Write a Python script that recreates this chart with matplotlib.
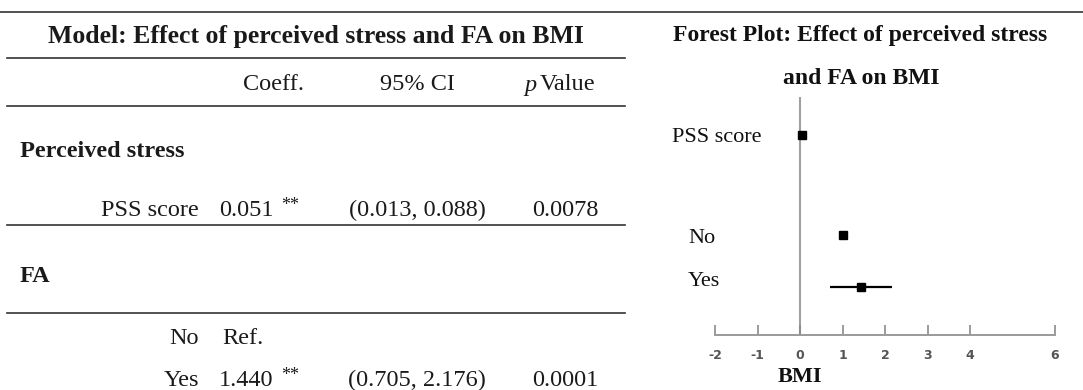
import numpy as np
import matplotlib
matplotlib.use("Agg")
import matplotlib.pyplot as plt
from matplotlib.lines import Line2D

# regression results: perceived stress and FA on BMI
terms = ["PSS score", "No", "Yes"]
coef = [0.051, 1.0, 1.440]
coef_marks = ["**", "", "**"]
ci_low = [0.013, np.nan, 0.705]
ci_high = [0.088, np.nan, 2.176]
p_values = [0.0078, np.nan, 0.0001]
is_reference = [False, True, False]

groups = ["Perceived stress", "FA"]
x_ticks = [-2, -1, 0, 1, 2, 3, 4, 6]

W, H = 1083, 390
SERIF = ["Liberation Serif", "DejaVu Serif"]


def px(x, y):
    """pixel position (from top-left) -> figure fraction"""
    return x / W, 1 - y / H


def hline(fig, y, x0, x1, color="#333333", lw=1.2):
    a0, b = px(x0, y)
    a1, _ = px(x1, y)
    fig.add_artist(Line2D([a0, a1], [b, b], color=color, lw=lw,
                          transform=fig.transFigure))


def text(fig, x, y, s, **kw):
    kw.setdefault("family", SERIF)
    kw.setdefault("fontsize", 17.5)
    kw.setdefault("va", "center")
    kw.setdefault("color", "#1a1a1a")
    fig.text(*px(x, y), s, **kw)


fig = plt.figure(figsize=(W / 100, H / 100), dpi=100)

# ---- table on the left ----
hline(fig, 12, 0, W)
for y in (58, 106, 225, 313):
    hline(fig, y, 7, 625)

text(fig, 316, 37, "Model: Effect of perceived stress and FA on BMI",
     ha="center", fontsize=18.5, weight="bold")
text(fig, 273, 85, "Coeff.", ha="center")
text(fig, 417, 85, "95% CI", ha="center")
text(fig, 524, 85, "p", ha="left", style="italic")
text(fig, 540, 85, "Value", ha="left")

text(fig, 20, 152, groups[0], ha="left", weight="bold")
text(fig, 20, 277, groups[1], ha="left", weight="bold")

row_y = [210, 338, 380]
for i, name in enumerate(terms):
    y = row_y[i]
    text(fig, 199, y, name, ha="right")
    if is_reference[i]:
        text(fig, 222, y, "Ref.", ha="left")
        continue
    text(fig, 219, y, f"{coef[i]:.3f}", ha="left")
    text(fig, 281, y - 5, coef_marks[i], ha="left", fontsize=13)
    text(fig, 417, y, f"({ci_low[i]:.3f}, {ci_high[i]:.3f})", ha="center")
    text(fig, 565, y, f"{p_values[i]:.4f}", ha="center")

# ---- forest plot on the right ----
text(fig, 860, 35, "Forest Plot: Effect of perceived stress",
     ha="center", fontsize=17, weight="bold", color="#111111")
text(fig, 861, 78, "and FA on BMI",
     ha="center", fontsize=17, weight="bold", color="#111111")

ax_top, ax_bot = 97, 335
x0, x1 = 715, 1055
ax = fig.add_axes([x0 / W, 1 - ax_bot / H, (x1 - x0) / W, (ax_bot - ax_top) / H])
ax.set_xlim(-2, 6)
ax.set_ylim(ax_bot, ax_top)

forest_y = [135, 235, 287]
for i in range(len(terms)):
    if np.isnan(ci_low[i]):
        err = None
    else:
        err = [[coef[i] - ci_low[i]], [ci_high[i] - coef[i]]]
    ax.errorbar(coef[i], forest_y[i], xerr=err, fmt="s", color="black",
                ms=6, elinewidth=1.6, capsize=0)

ax.axvline(0, color="#a0a0a0", lw=1.5, zorder=0)
for side in ("left", "right", "top"):
    ax.spines[side].set_visible(False)
ax.spines["bottom"].set_color("#9a9a9a")
ax.spines["bottom"].set_linewidth(1.4)
ax.set_yticks([])
ax.set_xticks(x_ticks)
ax.set_xticklabels([str(t) for t in x_ticks], fontsize=9, weight="bold",
                   color="#555555", family="DejaVu Sans")
ax.tick_params(axis="x", direction="in", length=7, width=1.2,
               color="#8a8a8a", pad=10)
ax.patch.set_alpha(0)

label_x = [672, 688, 688]
label_y = [137, 238, 282]
for i, name in enumerate(terms):
    text(fig, label_x[i], label_y[i], name, ha="left", fontsize=16,
         color="#111111")

text(fig, 800, 377, "BMI", ha="center", fontsize=16, weight="bold",
     color="#111111")

fig.savefig("out.png", dpi=100)
